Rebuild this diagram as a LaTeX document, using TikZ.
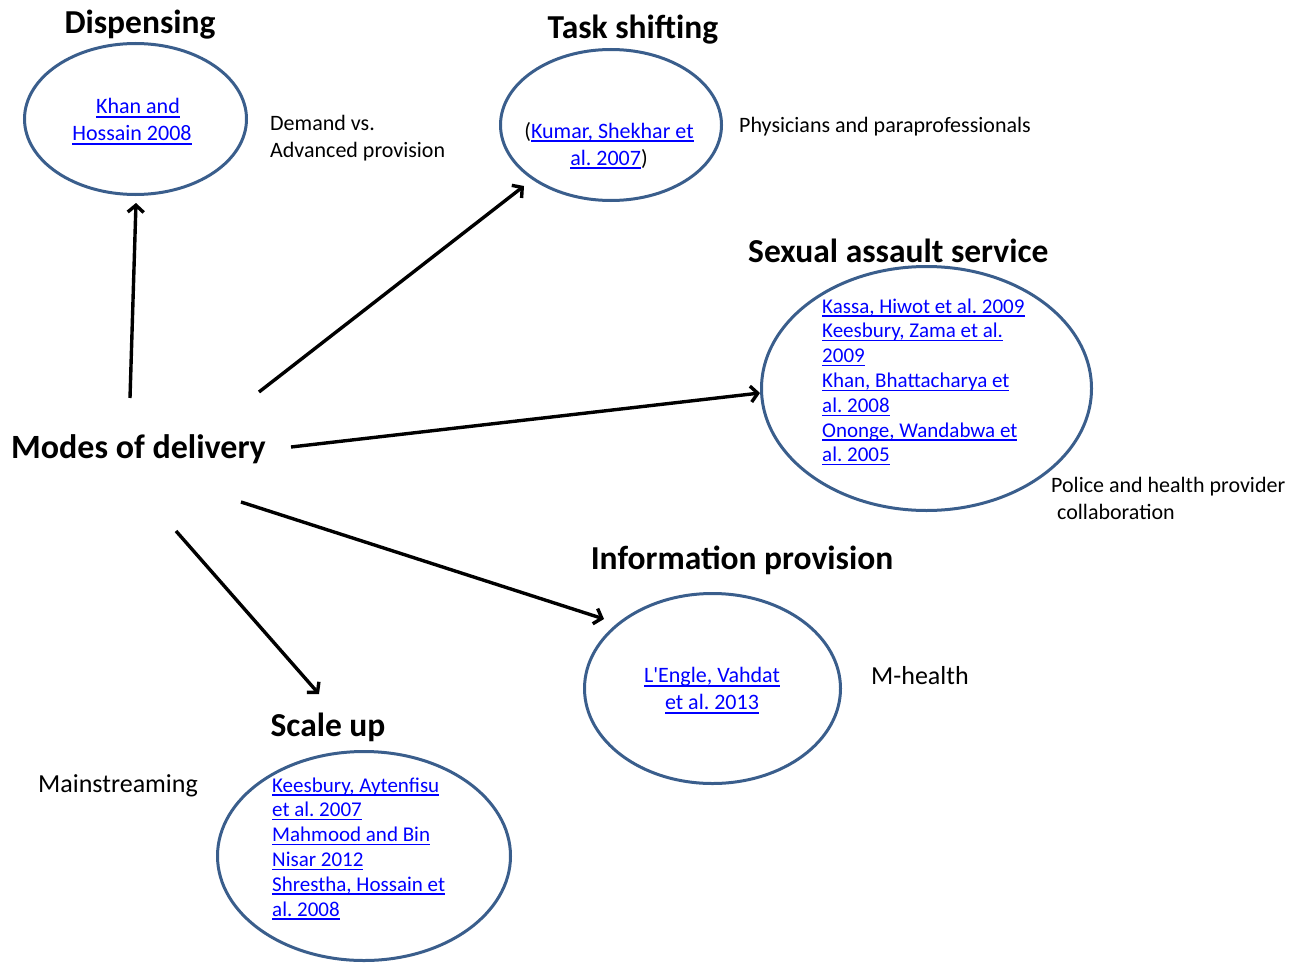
\documentclass[tikz,border=0pt]{standalone}
\usepackage{fontspec}
\setmainfont{Carlito}
\usetikzlibrary{shapes.geometric,arrows.meta}
\definecolor{ellblue}{RGB}{58,94,140}
\definecolor{linkblue}{RGB}{0,0,255}
\newsavebox\citbox
\newcommand\cit[1]{\sbox\citbox{\color{linkblue}#1}\rlap{\color{linkblue}\rule[-0.17em]{\wd\citbox}{0.065em}}\usebox\citbox}
\frenchspacing
\begin{document}
\begin{tikzpicture}[x=1pt,y=-1pt,
  ell/.style={draw=ellblue, line width=3pt, ellipse, inner sep=0pt},
  ttl/.style={font=\fontsize{33.5}{40}\selectfont\bfseries, inner sep=0pt},
  note/.style={font=\fontsize{22}{27}\selectfont, align=left, inner sep=0pt, anchor=west},
  bignote/.style={font=\fontsize{26}{31}\selectfont, inner sep=0pt, anchor=west},
  cite/.style={font=\fontsize{22}{27}\selectfont, align=center, inner sep=0pt},
  citelist/.style={font=\fontsize{21}{24.8}\selectfont, align=left, inner sep=0pt, anchor=west},
  arr/.style={line width=3.4pt, -{Straight Barb[length=7pt,width=16pt]}}]
\useasboundingbox (0,0) rectangle (1300,963);

% ellipses
\node[ell, minimum width=222pt, minimum height=151pt] (disp) at (135.5,119) {};
\node[ell, minimum width=221pt, minimum height=151pt] (task) at (611,125) {};
\node[ell, minimum width=330pt, minimum height=244pt] (sex) at (926.5,388.5) {};
\node[ell, minimum width=256pt, minimum height=190pt] (info) at (712.5,688.5) {};
\node[ell, minimum width=293pt, minimum height=209pt] (scale) at (364,856) {};

% titles
\node[ttl] (tdisp) at (140,25) {Dispensing};
\node[ttl] (ttask) at (633,30) {Task shifting};
\node[ttl, anchor=west] (tsex) at (748,251) {Sexual assault service};
\node[ttl] (tinfo) at (742,560) {Information provision};
\node[ttl] (tscale) at (328,727) {Scale up};
\node[ttl, anchor=west, font=\fontsize{34}{40}\selectfont\bfseries] (modes) at (11,449.5) {Modes of delivery};

% citations
\node[cite] (cdisp) at (132,121.5) {\hspace*{12pt}\cit{Khan and}\\\cit{Hossain 2008}};
\node[cite] (ctask) at (609,145.5) {(\cit{Kumar, Shekhar et}\\\cit{al. 2007})};
\node[citelist] (csex) at (822,382) {\cit{Kassa, Hiwot et al. 2009}\\\cit{Keesbury, Zama et al.}\\\cit{2009}\\\cit{Khan, Bhattacharya et}\\\cit{al. 2008}\\\cit{Ononge, Wandabwa et}\\\cit{al. 2005}};
\node[cite] (cinfo) at (712,690.5) {\cit{L\textquotesingle Engle, Vahdat}\\\cit{et al. 2013}};
\node[citelist] (cscale) at (272,848.5) {\cit{Keesbury, Aytenfisu}\\\cit{et al. 2007}\\\cit{Mahmood and Bin}\\\cit{Nisar 2012}\\\cit{Shrestha, Hossain et}\\\cit{al. 2008}};

% notes
\node[note] (ndisp) at (270,138.5) {Demand vs.\\Advanced provision};
\node[note] (ntask) at (739,127) {Physicians and paraprofessionals};
\node[note] (nsex) at (1051,498.5) {Police and health provider\\\hspace*{6pt}collaboration};
\node[bignote] (ninfo) at (871,676) {M-health};
\node[bignote] (nscale) at (38,786) {Mainstreaming};

% connectors
\coordinate (s1) at (130,398);
\coordinate (e1) at (136,203);
\coordinate (s2) at (259,392);
\coordinate (e2) at (524,186);
\coordinate (s3) at (291,447);
\coordinate (e3) at (760,393);
\coordinate (s4) at (241,502);
\coordinate (e4) at (604,619);
\coordinate (s5) at (176,531);
\coordinate (e5) at (319,694);
\draw[arr] (s1) -- (e1);
\draw[arr] (s2) -- (e2);
\draw[arr] (s3) -- (e3);
\draw[arr] (s4) -- (e4);
\draw[arr] (s5) -- (e5);
\end{tikzpicture}
\end{document}
